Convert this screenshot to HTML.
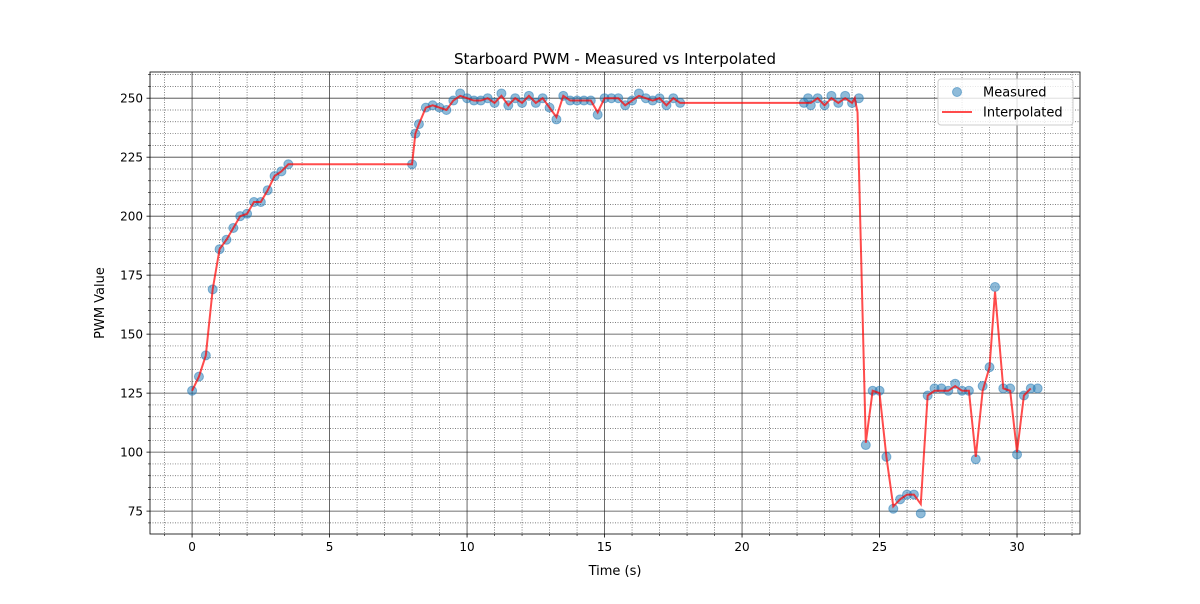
<!DOCTYPE html>
<html><head><meta charset="utf-8"><style>
body{margin:0;background:#fff;font-family:"DejaVu Sans","Liberation Sans",sans-serif;}
svg text{font-family:"DejaVu Sans","Liberation Sans",sans-serif;}
</style></head><body>
<svg id="chart" width="1200" height="600" xmlns="http://www.w3.org/2000/svg">
<rect width="1200" height="600" fill="#fff"/>
<text x="615" y="64" text-anchor="middle" font-size="15">Starboard PWM - Measured vs Interpolated</text>
<g id="grid"></g><g id="series"></g><g id="axes"></g>
<text x="615" y="575" text-anchor="middle" font-size="13">Time (s)</text>
<text transform="translate(104,303) rotate(-90)" text-anchor="middle" font-size="13">PWM Value</text>
<g>
<rect x="938" y="79" width="135" height="46" rx="3" fill="#fff" fill-opacity="0.8" stroke="#ccc"/>
<circle cx="957" cy="92" r="4.5" fill="#1f77b4" fill-opacity="0.5" stroke="#1f77b4" stroke-opacity="0.5"/>
<text x="983" y="96.5" font-size="13">Measured</text>
<line x1="942" y1="112" x2="972" y2="112" stroke="red" stroke-opacity="0.7" stroke-width="2"/>
<text x="983" y="116.5" font-size="13">Interpolated</text>
</g>
</svg>
<script>
const measuredTimes=[0,0.25,0.5,0.75,1,1.25,1.5,1.75,2,2.25,2.5,2.75,3,3.25,3.5,
8,8.12,8.25,8.5,8.75,9,9.25,9.5,9.75,10,10.25,10.5,10.75,11,11.25,11.5,11.75,12,12.25,12.5,12.75,13,13.25,13.5,13.75,14,14.25,14.5,14.75,15,15.25,15.5,15.75,16,16.25,16.5,16.75,17,17.25,17.5,17.75,
22.25,22.4,22.5,22.75,23,23.25,23.5,23.75,24,24.25,
24.5,24.75,25,25.25,25.5,25.75,26,26.25,26.5,26.75,27,27.25,27.5,27.75,28,28.25,28.5,28.75,29,29.2,29.5,29.75,30,30.25,30.5,30.75];
const measuredValues=[126,132,141,169,186,190,195,200,201,206,206,211,217,219,222,
222,235,239,246,247,246,245,249,252,250,249,249,250,248,252,247,250,248,251,248,250,246,241,251,249,249,249,249,243,250,250,250,247,249,252,250,249,250,247,250,248,
248,250,247,250,247,251,248,251,248,250,
103,126,126,98,76,80,82,82,74,124,127,127,126,129,126,126,97,128,136,170,127,127,99,124,127,127];
const interpTimes=[0,0.25,0.5,0.75,1,1.25,1.5,1.75,2,2.25,2.5,2.75,3,3.25,3.5,
8,8.12,8.25,8.5,8.75,9,9.25,9.5,9.75,10,10.25,10.5,10.75,11,11.25,11.5,11.75,12,12.25,12.5,12.75,13,13.25,13.5,13.75,14,14.25,14.5,14.75,15,15.25,15.5,15.75,16,16.25,16.5,16.75,17,17.25,17.5,17.75,
22.25,22.5,22.75,23,23.25,23.5,23.75,24,24.1,24.2,
24.5,24.75,25,25.25,25.5,25.75,26,26.25,26.5,26.75,27,27.25,27.5,27.75,28,28.25,28.5,28.75,29,29.2,29.5,29.75,30,30.25,30.5];
const interpValues=[126,132,141,169,186,190,195,200,201,206,206,211,217,219,222,
222,235,239,246,247,246,245,249,251,250,249,249,250,248,251,247,250,248,251,248,250,246,242,251,249,249,249,249,244,250,250,250,247,249,251,250,249,250,247,250,248,
248,248,250,247,250,248,250,248,250,244,
104,126,125,98,77,80,82,82,78,124,126,126,126,128,126,126,98,126,136,168,127,126,100,124,127];
const xTicks=[0,5,10,15,20,25,30];
const yTicks=[75,100,125,150,175,200,225,250];

const NS="http://www.w3.org/2000/svg";
const L=150,R=1080,T=72,B=534,x0=-1.53,x1=32.29,y0=65.3,y1=261.1;
const X=t=>L+(t-x0)/(x1-x0)*(R-L);
const Y=v=>B-(v-y0)/(y1-y0)*(B-T);
function mk(tag,attrs,parent){const e=document.createElementNS(NS,tag);for(const k in attrs)e.setAttribute(k,attrs[k]);parent.appendChild(e);return e;}
const grid=document.getElementById('grid'),series=document.getElementById('series'),axes=document.getElementById('axes');
for(let t=-1;t<=32;t++){if(t%5===0)continue;const l=mk('line',{x1:X(t),x2:X(t),y1:T,y2:B,stroke:'#555','stroke-width':0.7,'stroke-dasharray':'1,1.5'},grid);


mk('line',{x1:X(t),x2:X(t),y1:B,y2:B+2,stroke:'#000','stroke-width':0.6},axes);}
for(let v=70;v<=260;v+=5){if(v%25===0)continue;const l=mk('line',{x1:L,x2:R,y1:Y(v),y2:Y(v),stroke:'#555','stroke-width':0.7,'stroke-dasharray':'1,1.5'},grid);


mk('line',{x1:L-2,x2:L,y1:Y(v),y2:Y(v),stroke:'#000','stroke-width':0.6},axes);}
xTicks.forEach(t=>{const l=mk('line',{x1:X(t),x2:X(t),y1:T,y2:B,stroke:'#222','stroke-width':0.8,'stroke-opacity':0.85},grid);


mk('line',{x1:X(t),x2:X(t),y1:B,y2:B+3.5,stroke:'#000','stroke-width':0.8},axes);
const tx=mk('text',{x:X(t),y:B+17,'text-anchor':'middle','font-size':12},axes);tx.textContent=t;

});
yTicks.forEach(v=>{const l=mk('line',{x1:L,x2:R,y1:Y(v),y2:Y(v),stroke:'#222','stroke-width':0.8,'stroke-opacity':0.85},grid);


mk('line',{x1:L-3.5,x2:L,y1:Y(v),y2:Y(v),stroke:'#000','stroke-width':0.8},axes);
const tx=mk('text',{x:L-7,y:Y(v)+4.5,'text-anchor':'end','font-size':12},axes);tx.textContent=v;

});
const fr=mk('rect',{x:L,y:T,width:R-L,height:B-T,fill:'none',stroke:'#000','stroke-width':0.8},axes);


measuredTimes.forEach((t,i)=>{const c=mk('circle',{cx:X(t),cy:Y(measuredValues[i]),r:4.5,fill:'#1f77b4','fill-opacity':0.5,stroke:'#1f77b4','stroke-opacity':0.5},series);

});
const p=mk('polyline',{points:interpTimes.map((t,i)=>X(t)+','+Y(interpValues[i])).join(' '),fill:'none',stroke:'red','stroke-opacity':0.7,'stroke-width':2},series);


</script>
</body></html>
